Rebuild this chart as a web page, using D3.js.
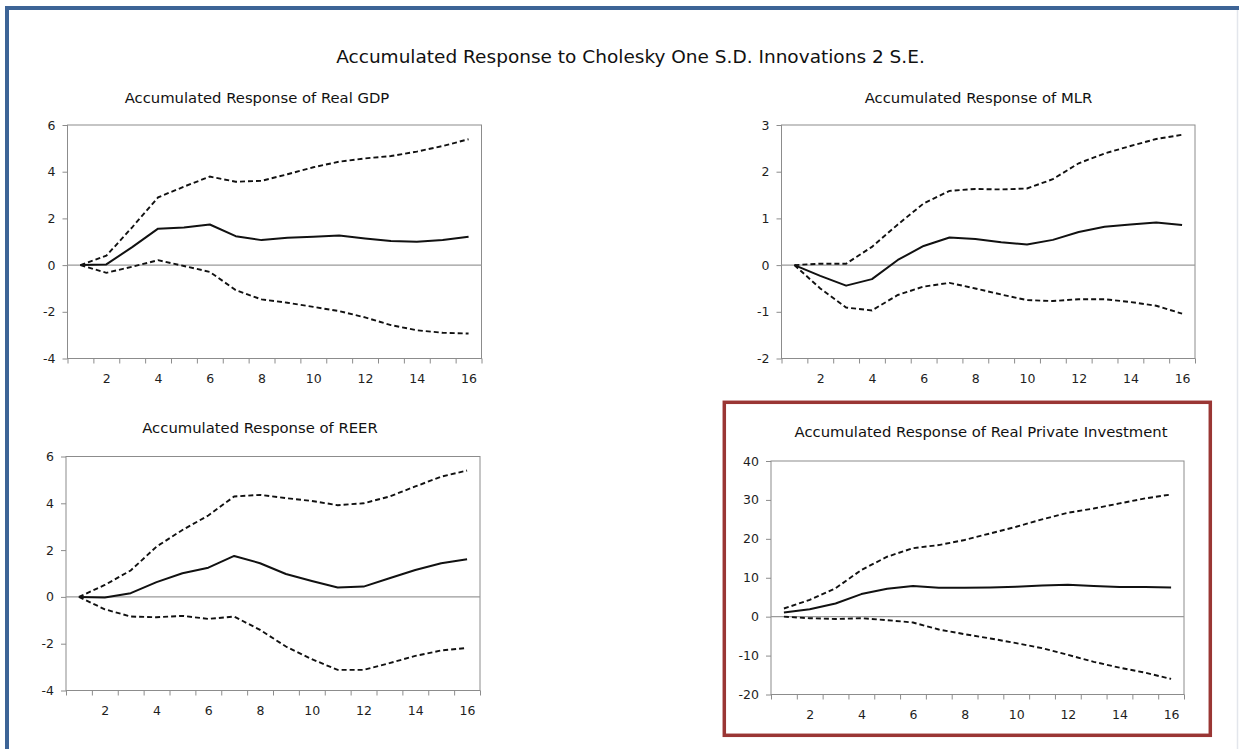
<!DOCTYPE html>
<html>
<head>
<meta charset="utf-8">
<script src="https://cdn.jsdelivr.net/npm/d3@7"></script>
<style>
  html, body { margin: 0; padding: 0; background: #fff; }
  svg { display: block; }
</style>
</head>
<body>
<svg id="chart" width="1239" height="749"></svg>
<script>
// ---------- DATA ----------
const periods = [1, 2, 3, 4, 5, 6, 7, 8, 9, 10, 11, 12, 13, 14, 15, 16];
const xTickLabels = [2, 4, 6, 8, 10, 12, 14, 16];

const gdpMid   = [0, 0.03, 0.77, 1.56, 1.61, 1.74, 1.24, 1.07, 1.17, 1.21, 1.27, 1.14, 1.03, 1.00, 1.07, 1.21];
const gdpUpper = [0, 0.40, 1.62, 2.90, 3.36, 3.79, 3.57, 3.61, 3.89, 4.19, 4.43, 4.57, 4.67, 4.86, 5.10, 5.39];
const gdpLower = [0, -0.33, -0.07, 0.21, -0.04, -0.29, -1.07, -1.47, -1.61, -1.79, -1.97, -2.24, -2.57, -2.79, -2.90, -2.93];
const gdpTicks = [6, 4, 2, 0, -2, -4];

const mlrMid   = [0, -0.23, -0.44, -0.30, 0.11, 0.41, 0.59, 0.56, 0.49, 0.44, 0.54, 0.71, 0.82, 0.87, 0.91, 0.86];
const mlrUpper = [0, 0.03, 0.03, 0.39, 0.87, 1.32, 1.59, 1.63, 1.62, 1.64, 1.84, 2.18, 2.39, 2.55, 2.70, 2.79];
const mlrLower = [0, -0.50, -0.91, -0.97, -0.64, -0.46, -0.38, -0.50, -0.63, -0.75, -0.77, -0.73, -0.73, -0.79, -0.87, -1.04];
const mlrTicks = [3, 2, 1, 0, -1, -2];

const reerMid   = [0, -0.03, 0.16, 0.63, 1.01, 1.25, 1.75, 1.44, 0.98, 0.68, 0.40, 0.44, 0.80, 1.15, 1.44, 1.61];
const reerUpper = [0, 0.51, 1.13, 2.15, 2.86, 3.48, 4.29, 4.36, 4.22, 4.10, 3.92, 4.00, 4.29, 4.72, 5.14, 5.40];
const reerLower = [0, -0.53, -0.84, -0.87, -0.81, -0.94, -0.84, -1.41, -2.12, -2.66, -3.12, -3.12, -2.83, -2.52, -2.29, -2.18];
const reerTicks = [6, 4, 2, 0, -2, -4];

const rpiMid   = [1.1, 1.9, 3.4, 5.8, 7.2, 7.9, 7.4, 7.4, 7.5, 7.7, 8.0, 8.2, 7.9, 7.6, 7.6, 7.5];
const rpiUpper = [2.1, 4.3, 7.3, 12.0, 15.4, 17.6, 18.4, 19.7, 21.4, 23.1, 25.0, 26.7, 27.8, 29.1, 30.4, 31.4];
const rpiLower = [0, -0.4, -0.6, -0.4, -0.9, -1.5, -3.3, -4.5, -5.6, -6.8, -8.1, -9.8, -11.6, -13.1, -14.4, -16.0];
const rpiTicks = [40, 30, 20, 10, 0, -10, -20];

const mainTitle = "Accumulated Response to Cholesky One S.D. Innovations 2 S.E.";
const panelTitles = [
  "Accumulated Response of Real GDP",
  "Accumulated Response of MLR",
  "Accumulated Response of REER",
  "Accumulated Response of Real Private Investment"
];

// ---------- LAYOUT ----------
const svg = d3.select("#chart");
const fmt = d => String(d);   // plain hyphen-minus like the original

// outer blue frame (top & left visible)
svg.append("path")
  .attr("d", "M7,749 L7,8 L1239,8")
  .attr("fill", "none")
  .attr("stroke", "#3d6496")
  .attr("stroke-width", 4);
svg.append("line")
  .attr("x1", 1237.5).attr("x2", 1237.5).attr("y1", 10).attr("y2", 749)
  .attr("stroke", "#e3e6ec").attr("stroke-width", 1.5);

// highlight box around panel 4
svg.append("rect")
  .attr("x", 724.3).attr("y", 402.3).attr("width", 486).attr("height", 333)
  .attr("fill", "none")
  .attr("stroke", "#9a3634")
  .attr("stroke-width", 3.5);

svg.append("text")
  .attr("x", 630.5).attr("y", 63)
  .attr("text-anchor", "middle")
  .attr("font-family", "'DejaVu Sans', sans-serif")
  .attr("font-size", 18.5)
  .attr("fill", "#111")
  .text(mainTitle);

const panels = [
  { box: {l: 67.5, r: 481.5, t: 125, b: 358.5}, domain: [-4, 6], ticks: gdpTicks,
    mid: gdpMid, up: gdpUpper, lo: gdpLower, title: panelTitles[0], tx: 257, ty: 102.5 },
  { box: {l: 781.5, r: 1195, t: 125, b: 358.5}, domain: [-2, 3], ticks: mlrTicks,
    mid: mlrMid, up: mlrUpper, lo: mlrLower, title: panelTitles[1], tx: 978.5, ty: 102.5 },
  { box: {l: 66, r: 480, t: 456.5, b: 690.5}, domain: [-4, 6], ticks: reerTicks,
    mid: reerMid, up: reerUpper, lo: reerLower, title: panelTitles[2], tx: 260, ty: 432.5 },
  { box: {l: 771, r: 1184, t: 461, b: 694.5}, domain: [-20, 40], ticks: rpiTicks,
    mid: rpiMid, up: rpiUpper, lo: rpiLower, title: panelTitles[3], tx: 981, ty: 437 }
];

const halfTicks = d3.range(0.5, 16.6, 1);

panels.forEach(p => {
  const g = svg.append("g");
  const x = d3.scaleLinear().domain([0.5, 16.5]).range([p.box.l, p.box.r]);
  const y = d3.scaleLinear().domain(p.domain).range([p.box.b, p.box.t]);

  // title
  g.append("text")
    .attr("x", p.tx).attr("y", p.ty)
    .attr("text-anchor", "middle")
    .attr("font-family", "'DejaVu Sans', sans-serif")
    .attr("font-size", 14.8)
    .attr("fill", "#111")
    .text(p.title);

  // frame
  g.append("rect")
    .attr("x", p.box.l).attr("y", p.box.t)
    .attr("width", p.box.r - p.box.l).attr("height", p.box.b - p.box.t)
    .attr("fill", "none").attr("stroke", "#8c8c8c").attr("stroke-width", 1);

  // zero line
  g.append("line")
    .attr("x1", p.box.l).attr("x2", p.box.r)
    .attr("y1", y(0)).attr("y2", y(0))
    .attr("stroke", "#9a9a9a").attr("stroke-width", 1.2);

  // y axis
  const ya = g.append("g")
    .attr("transform", `translate(${p.box.l},0)`)
    .call(d3.axisLeft(y).tickValues(p.ticks).tickSize(5).tickPadding(7).tickFormat(fmt));
  ya.select(".domain").remove();
  ya.selectAll("line").attr("stroke", "#8c8c8c");
  ya.selectAll("text")
    .style("font-family", "'DejaVu Sans', Verdana, sans-serif")
    .style("font-size", "12.5px").attr("fill", "#1e1e1e");

  // x axis tick marks (between periods)
  const xa = g.append("g")
    .attr("transform", `translate(0,${p.box.b})`)
    .call(d3.axisBottom(x).tickValues(halfTicks).tickSize(5).tickFormat(""));
  xa.select(".domain").remove();
  xa.selectAll("line").attr("stroke", "#8c8c8c");

  // x axis labels
  const xl = g.append("g")
    .attr("transform", `translate(0,${p.box.b})`)
    .call(d3.axisBottom(x).tickValues(xTickLabels).tickSize(0).tickPadding(16).tickFormat(fmt));
  xl.select(".domain").remove();
  xl.selectAll("text")
    .style("font-family", "'DejaVu Sans', Verdana, sans-serif")
    .style("font-size", "12.5px").attr("fill", "#1e1e1e");

  const line = (arr) => d3.line().x((d, i) => x(periods[i])).y(d => y(d))(arr);

  g.append("path").attr("d", line(p.up))
    .attr("fill", "none").attr("stroke", "#111").attr("stroke-width", 1.9)
    .attr("stroke-dasharray", "5,3");
  g.append("path").attr("d", line(p.lo))
    .attr("fill", "none").attr("stroke", "#111").attr("stroke-width", 1.9)
    .attr("stroke-dasharray", "5,3");
  g.append("path").attr("d", line(p.mid))
    .attr("fill", "none").attr("stroke", "#111").attr("stroke-width", 2)
    .attr("stroke-linejoin", "round");
});
</script>
</body>
</html>
